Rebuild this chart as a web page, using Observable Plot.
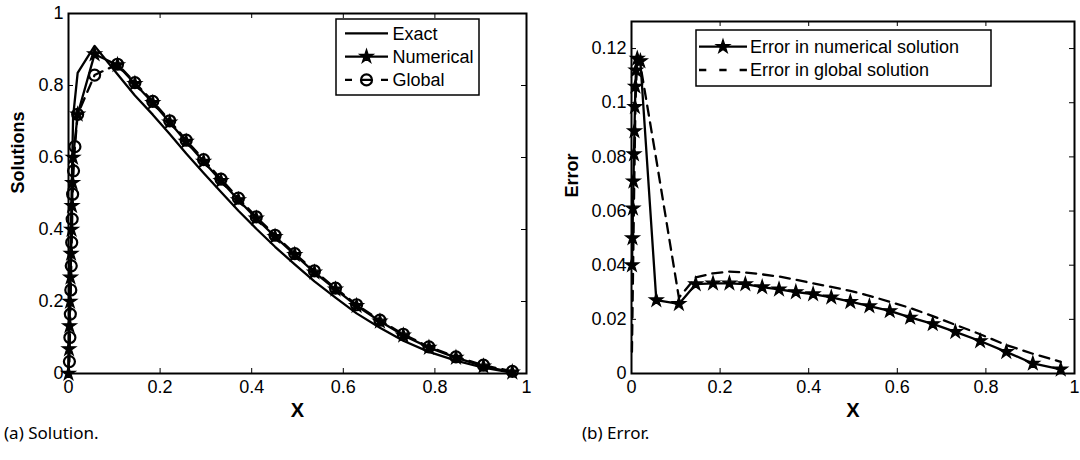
<!DOCTYPE html>
<html><head><meta charset="utf-8">
<script src="https://cdn.jsdelivr.net/npm/d3@7"></script>
<script src="https://cdn.jsdelivr.net/npm/@observablehq/plot@0.6"></script>
<style>
body{margin:0;background:#fff;}
#wrap{position:relative;width:1080px;height:460px;overflow:hidden;font-family:"Liberation Sans",Arial,sans-serif;}
.panel{position:absolute;top:0;}
.legend{position:absolute;}
.caption{position:absolute;font-family:"Noto Sans",sans-serif;font-size:17px;line-height:20px;color:#000;white-space:nowrap;}
</style></head><body><div id="wrap"></div>
<script>
// ---------- data: (a) Solution ----------
const solX = [0, 0.0011, 0.0022, 0.0033, 0.0044, 0.0056, 0.0067, 0.0078, 0.0089, 0.01, 0.02, 0.057,
  0.107, 0.145, 0.184, 0.221, 0.257, 0.295, 0.333, 0.371, 0.41, 0.451, 0.494, 0.537, 0.583, 0.629,
  0.68, 0.731, 0.787, 0.846, 0.906, 0.969];
const exactY = [0, 0.108, 0.182, 0.261, 0.338, 0.414, 0.49, 0.565, 0.636, 0.712, 0.835, 0.91,
  0.831, 0.772, 0.719, 0.665, 0.611, 0.557, 0.504, 0.452, 0.402, 0.352, 0.303, 0.256, 0.211, 0.167,
  0.127, 0.091, 0.060, 0.036, 0.016, 0.002];
const numericalY = [0, 0.068, 0.132, 0.2, 0.267, 0.333, 0.4, 0.466, 0.53, 0.6, 0.72, 0.887,
  0.857, 0.805, 0.752, 0.698, 0.644, 0.589, 0.535, 0.482, 0.431, 0.380, 0.330, 0.281, 0.234, 0.188,
  0.145, 0.106, 0.072, 0.044, 0.020, 0.0035];
const globalX = [0.002, 0.003, 0.004, 0.005, 0.006, 0.007, 0.008, 0.009, 0.011, 0.014, 0.02, 0.057,
  0.107, 0.145, 0.184, 0.221, 0.257, 0.295, 0.333, 0.371, 0.41, 0.451, 0.494, 0.537, 0.583, 0.629,
  0.68, 0.731, 0.787, 0.846, 0.906, 0.969];
const globalY = [0.033, 0.1, 0.165, 0.232, 0.299, 0.364, 0.429, 0.498, 0.563, 0.63, 0.72, 0.829,
  0.859, 0.808, 0.756, 0.702, 0.648, 0.594, 0.540, 0.487, 0.435, 0.384, 0.333, 0.285, 0.237, 0.191,
  0.148, 0.109, 0.074, 0.046, 0.023, 0.006];

// ---------- data: (b) Error ----------
const errNumX = [0.0011, 0.0022, 0.0033, 0.0044, 0.0056, 0.0067, 0.0078, 0.0089, 0.01, 0.013, 0.02, 0.056,
  0.107, 0.145, 0.184, 0.221, 0.257, 0.295, 0.333, 0.371, 0.41, 0.451, 0.494, 0.537, 0.583, 0.629,
  0.68, 0.731, 0.787, 0.846, 0.906, 0.969];
const errNumY = [0.040, 0.050, 0.061, 0.071, 0.081, 0.0895, 0.0985, 0.106, 0.112, 0.1163, 0.1154, 0.0271,
  0.0257, 0.033, 0.0333, 0.0333, 0.033, 0.0319, 0.0311, 0.0301, 0.0293, 0.0281, 0.0265, 0.0249, 0.0231, 0.0207,
  0.0183, 0.0154, 0.012, 0.008, 0.0037, 0.0015];
const errGlobX = [0.001, 0.002, 0.003, 0.004, 0.005, 0.006, 0.007, 0.008, 0.009, 0.011, 0.014, 0.02, 0.057,
  0.107, 0.145, 0.184, 0.221, 0.257, 0.295, 0.333, 0.371, 0.41, 0.451, 0.494, 0.537, 0.583, 0.629,
  0.68, 0.731, 0.787, 0.846, 0.906, 0.969];
const errGlobY = [0.008, 0.02, 0.032, 0.044, 0.056, 0.068, 0.079, 0.09, 0.1, 0.109, 0.116, 0.114, 0.078,
  0.028, 0.0355, 0.037, 0.0376, 0.0373, 0.0366, 0.0358, 0.0346, 0.0333, 0.032, 0.0305, 0.0287, 0.0265, 0.0242,
  0.0212, 0.018, 0.0145, 0.0105, 0.0073, 0.0043];

// ---------- ticks & labels ----------
const xTicks = [0, 0.2, 0.4, 0.6, 0.8, 1];
const solYTicks = [0, 0.2, 0.4, 0.6, 0.8, 1];
const errYTicks = [0, 0.02, 0.04, 0.06, 0.08, 0.1, 0.12];
const solLegend = ["Exact", "Numerical", "Global"];
const errLegend = ["Error in numerical solution", "Error in global solution"];
const captions = ["(a) Solution.", "(b) Error."];
const axisLabels = {x: "X", sol: "Solutions", err: "Error"};

const zip = (xs, ys) => xs.map((x, i) => ({x, y: ys[i]}));
const STAR_R = 4.2, CIRC_R = 5.5, LW = 2.3, DASH = "10,7";

function framePanel(o) {
  const iw = o.width - o.marginLeft - o.marginRight;
  const ih = o.height - o.marginTop - o.marginBottom;
  return Plot.plot({
    width: o.width, height: o.height,
    marginLeft: o.marginLeft, marginRight: o.marginRight, marginTop: o.marginTop, marginBottom: o.marginBottom,
    style: {fontSize: "18px", fontFamily: "'Liberation Sans', Arial, sans-serif", color: "#000", background: "transparent", overflow: "visible"},
    x: {domain: o.xDomain},
    y: {domain: o.yDomain},
    marks: [
      ...o.marks,
      Plot.frame({stroke: "#000", strokeWidth: 2}),
      Plot.tickX(xTicks, {x: d => d, insetTop: ih - 5, stroke: "#000", strokeWidth: 1}),
      Plot.tickX(xTicks, {x: d => d, insetBottom: ih - 5, stroke: "#000", strokeWidth: 1}),
      Plot.tickY(o.yTicks, {y: d => d, insetRight: iw - 5, stroke: "#000", strokeWidth: 1}),
      Plot.tickY(o.yTicks, {y: d => d, insetLeft: iw - 5, stroke: "#000", strokeWidth: 1}),
      Plot.axisX({ticks: xTicks, tickFormat: d => String(d), tickSize: 0, tickPadding: 7, label: null}),
      Plot.axisY({ticks: o.yTicks, tickFormat: d => String(d), tickSize: 0, tickPadding: 5, label: null}),
      Plot.text([o.xLabel], {text: d => d, frameAnchor: "bottom", dy: 43, fontWeight: "bold", fontSize: 20}),
      Plot.text([o.yLabel], {text: d => d, frameAnchor: "left", dx: o.yLabelDx, rotate: -90, fontWeight: "bold", fontSize: 18})
    ]
  });
}

const wrap = document.getElementById("wrap");
const starStyle = {symbol: "star", r: STAR_R, fill: "#000", stroke: "#000", strokeWidth: 1.3, strokeLinejoin: "miter"};

const left = framePanel({
  width: 540, height: 460, marginLeft: 68, marginRight: 14, marginTop: 13, marginBottom: 87,
  xDomain: [0, 1], yDomain: [0, 1], yTicks: solYTicks,
  xLabel: axisLabels.x, yLabel: axisLabels.sol, yLabelDx: -50,
  marks: [
    Plot.line(zip(solX, exactY), {x: "x", y: "y", stroke: "#000", strokeWidth: LW}),
    Plot.line(zip(globalX, globalY), {x: "x", y: "y", stroke: "#000", strokeWidth: LW, strokeDasharray: DASH}),
    Plot.line(zip(solX, numericalY), {x: "x", y: "y", stroke: "#000", strokeWidth: LW}),
    Plot.dot(zip(solX, numericalY), {x: "x", y: "y", ...starStyle}),
    Plot.dot(zip(globalX, globalY), {x: "x", y: "y", symbol: "circle", r: CIRC_R, fill: "none", stroke: "#000", strokeWidth: 2.2})
  ]
});
left.classList.add("panel"); left.style.left = "0px";
wrap.appendChild(left);

const right = framePanel({
  width: 540, height: 460, marginLeft: 91, marginRight: 6, marginTop: 21, marginBottom: 87,
  xDomain: [0, 1], yDomain: [0, 0.13], yTicks: errYTicks,
  xLabel: axisLabels.x, yLabel: axisLabels.err, yLabelDx: -59,
  marks: [
    Plot.line(zip(errGlobX, errGlobY), {x: "x", y: "y", stroke: "#000", strokeWidth: LW, strokeDasharray: DASH}),
    Plot.line(zip(errNumX, errNumY), {x: "x", y: "y", stroke: "#000", strokeWidth: LW}),
    Plot.dot(zip(errNumX, errNumY), {x: "x", y: "y", ...starStyle})
  ]
});
right.classList.add("panel"); right.style.left = "540px";
wrap.appendChild(right);

// ---------- legends ----------
const starPath = d3.symbol(d3.symbolStar, Math.PI * STAR_R * STAR_R)();
function legend(box, entries) {
  const svg = d3.select(wrap).append("svg").attr("class", "legend")
    .style("left", box.left + "px").style("top", box.top + "px")
    .attr("width", box.w + 2).attr("height", box.h + 2);
  svg.append("rect").attr("x", 1).attr("y", 1).attr("width", box.w - 1).attr("height", box.h - 1)
    .attr("fill", "#fff").attr("stroke", "#000").attr("stroke-width", 1.5);
  entries.forEach((e, i) => {
    const cy = box.row0 + i * box.rowStep;
    const g = svg.append("g");
    g.append("line").attr("x1", box.s0).attr("x2", box.s1).attr("y1", cy).attr("y2", cy)
      .attr("stroke", "#000").attr("stroke-width", LW).attr("stroke-dasharray", e.dash ? e.dash : null);
    const cx = (box.s0 + box.s1) / 2;
    if (e.marker === "star") g.append("path").attr("d", starPath).attr("transform", `translate(${cx},${cy})`)
      .attr("fill", "#000").attr("stroke", "#000").attr("stroke-width", 1.3);
    if (e.marker === "circle") g.append("circle").attr("cx", cx).attr("cy", cy).attr("r", CIRC_R)
      .attr("fill", "none").attr("stroke", "#000").attr("stroke-width", 2.2);
    g.append("text").attr("x", box.tx).attr("y", cy).attr("dy", "0.35em")
      .attr("font-family", "'Liberation Sans', Arial, sans-serif").attr("font-size", 18).text(e.label);
  });
}
legend({left: 335, top: 18, w: 144, h: 77, row0: 15.3, rowStep: 23.3, s0: 10, s1: 53, tx: 57.5}, [
  {label: solLegend[0]},
  {label: solLegend[1], marker: "star"},
  {label: solLegend[2], marker: "circle", dash: "7,10,9,10,7"}
]);
legend({left: 695, top: 29, w: 296, h: 57, row0: 17.7, rowStep: 23.3, s0: 4, s1: 52, tx: 55}, [
  {label: errLegend[0], marker: "star"},
  {label: errLegend[1], dash: "7.3,13"}
]);

// ---------- captions ----------
const c1 = document.createElement("div"); c1.className = "caption"; c1.style.left = "4px"; c1.style.top = "423px"; c1.textContent = captions[0];
const c2 = document.createElement("div"); c2.className = "caption"; c2.style.left = "582px"; c2.style.top = "423px"; c2.textContent = captions[1];
wrap.appendChild(c1); wrap.appendChild(c2);
</script>
</body></html>
